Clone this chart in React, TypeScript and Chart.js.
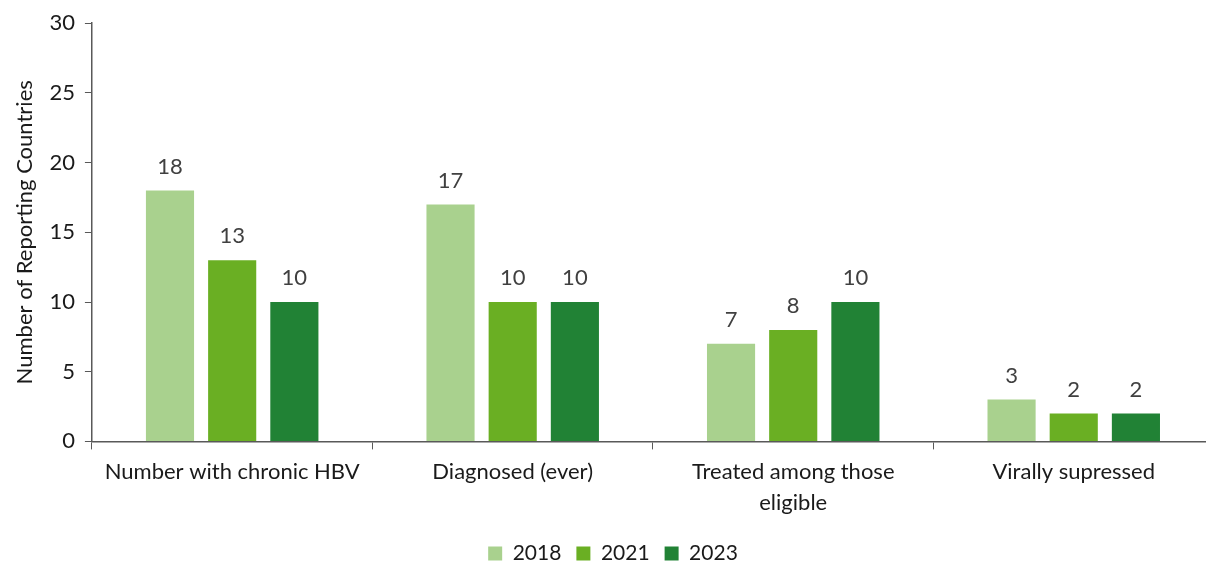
import React, { useEffect, useRef } from "react";
import { Chart, registerables } from "chart.js";

Chart.register(...registerables);

const categories: (string | string[])[] = [
  "Number with chronic HBV",
  "Diagnosed (ever)",
  ["Treated among those", "eligible"],
  "Virally supressed",
];
const seriesNames = ["2018", "2021", "2023"];
const values2018 = [18, 17, 7, 3];
const values2021 = [13, 10, 8, 2];
const values2023 = [10, 10, 10, 2];
const seriesColors = ["#A9D18E", "#6AAF23", "#218235"];
const yTicks = [0, 5, 10, 15, 20, 25, 30];

const FONT = "Lato, 'Open Sans', sans-serif";

const valueLabels = {
  id: "valueLabels",
  afterDatasetsDraw(chart: any) {
    const ctx = chart.ctx;
    ctx.save();
    ctx.font = `22px ${FONT}`;
    ctx.fillStyle = "#404040";
    ctx.textAlign = "center";
    ctx.textBaseline = "bottom";
    chart.data.datasets.forEach((ds: any, i: number) => {
      const meta = chart.getDatasetMeta(i);
      meta.data.forEach((bar: any, j: number) => {
        ctx.fillText(String(ds.data[j]), bar.x, bar.y - 13);
      });
    });
    ctx.restore();
  },
};

export default function App() {
  const ref = useRef<HTMLCanvasElement | null>(null);
  useEffect(() => {
    document.body.style.margin = "0";
    const datasets = [values2018, values2021, values2023].map((d, i) => ({
      label: seriesNames[i],
      data: d,
      backgroundColor: seriesColors[i],
      categoryPercentage: 0.665,
      barPercentage: 0.774,
    }));
    const chart = new Chart(ref.current!, {
      type: "bar",
      data: { labels: categories, datasets },
      plugins: [valueLabels],
      options: {
        animation: false,
        responsive: false,
        maintainAspectRatio: false,
        layout: { padding: { top: 21, left: 12, right: 0, bottom: -11 } },
        plugins: {
          tooltip: { enabled: false },
          legend: {
            position: "bottom",
            labels: {
              boxWidth: 14,
              boxHeight: 14,
              padding: 15,
              color: "#1a1a1a",
              font: { size: 21, family: FONT },
            },
          },
        },
        scales: {
          x: {
            afterFit: (scale: any) => {
              scale.height += 3;
            },
            grid: {
              display: true,
              drawOnChartArea: false,
              drawTicks: true,
              tickLength: 8,
              offset: true,
              color: "#595959",
            },
            border: { color: "#595959", width: 1.5 },
            ticks: {
              color: "#1a1a1a",
              font: { size: 22, family: FONT, lineHeight: 1.4 },
              padding: 7,
              maxRotation: 0,
              autoSkip: false,
            },
          },
          y: {
            min: 0,
            max: 30,
            afterBuildTicks: (axis: any) => {
              axis.ticks = yTicks.map((v) => ({ value: v }));
            },
            grid: {
              display: true,
              drawOnChartArea: false,
              drawTicks: true,
              tickLength: 7,
              color: "#595959",
            },
            border: { color: "#595959", width: 1.5 },
            ticks: {
              color: "#1a1a1a",
              font: { size: 22, family: FONT },
              padding: 10,
            },
            title: {
              display: true,
              text: "Number of Reporting Countries",
              color: "#1a1a1a",
              font: { size: 22, family: FONT },
              padding: { top: 0, bottom: 1 },
            },
          },
        },
      },
    });
    return () => chart.destroy();
  }, []);
  return (
    <div style={{ width: 1206, height: 563, overflow: "hidden", position: "relative" }}>
      <canvas ref={ref} width={1214} height={563} style={{ display: "block" }} />
    </div>
  );
}
